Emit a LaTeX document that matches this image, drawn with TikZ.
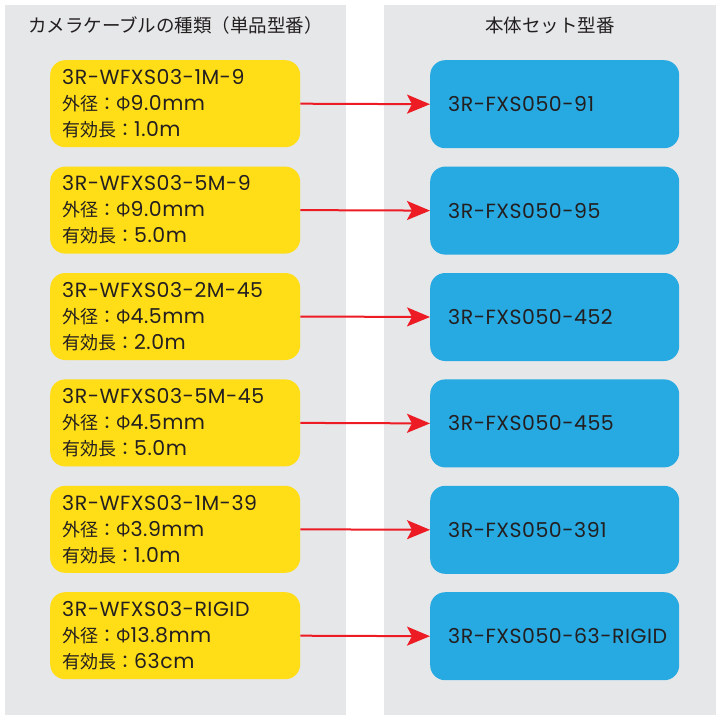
\documentclass[tikz,border=0pt]{standalone}
\usepackage{fontspec}
\setmainfont{Poppins}[LetterSpace=2.5]
\newfontfamily\jp{Noto Sans CJK JP}
\newcommand{\J}[1]{{\jp\fontsize{18}{26}\selectfont #1}}
\usetikzlibrary{arrows.meta}
\definecolor{panel}{HTML}{E6E7E8}
\definecolor{ybox}{HTML}{FFDD17}
\definecolor{bbox}{HTML}{27A9E1}
\definecolor{arr}{HTML}{ED1C24}
\definecolor{ink}{HTML}{231F20}
\tikzset{
  header/.style={text=ink, font=\jp\fontsize{18.5}{22}\selectfont, inner sep=0pt},
  cable/.style={fill=ybox, rounded corners=15pt, minimum width=250pt, minimum height=87pt,
    text width=226pt, inner xsep=12pt, inner ysep=0pt, align=left, text=ink,
    font=\fontsize{20.5}{26}\selectfont, anchor=north west},
  body/.style={fill=bbox, rounded corners=15pt, minimum width=249pt, minimum height=88pt,
    inner sep=0pt, anchor=north west},
  bodytext/.style={text=ink, font=\fontsize{20.5}{26}\selectfont, inner sep=0pt, anchor=west},
  link/.style={draw=arr, line width=2pt, -{Stealth[length=23pt, width=19pt, inset=5pt]}}
}
\begin{document}
\begin{tikzpicture}[x=1pt,y=-1pt]
\useasboundingbox (0,0) rectangle (721,715);
\fill[panel] (5,5) rectangle (346,715);
\fill[panel] (384,5) rectangle (716,715);
\node[header] (h1) at (175.5,25) {カメラケーブルの種類（単品型番）};
\node[header] (h2) at (550,25) {本体セット型番};
\foreach \i/\a/\b/\c/\d in {
  0/3R-WFXS03-1M-9/9.0mm/1.0m/3R-FXS050-91,
  1/3R-WFXS03-5M-9/9.0mm/5.0m/3R-FXS050-95,
  2/3R-WFXS03-2M-45/4.5mm/2.0m/3R-FXS050-452,
  3/3R-WFXS03-5M-45/4.5mm/5.0m/3R-FXS050-455,
  4/3R-WFXS03-1M-39/3.9mm/1.0m/3R-FXS050-391,
  5/3R-WFXS03-RIGID/13.8mm/63cm/3R-FXS050-63-RIGID} {
  \pgfmathsetmacro{\top}{60+\i*106.4}
  \node[cable] (y\i) at (50,\top) {\a\\\J{外径：Φ}\b\\\J{有効長：}\c};
  \node[body] (b\i) at (430,\top) {};
  \node[bodytext] (t\i) at ([xshift=18pt]b\i.west) {\d};
  \draw[link] (y\i.east) -- (b\i.west);
}
\end{tikzpicture}
\end{document}
